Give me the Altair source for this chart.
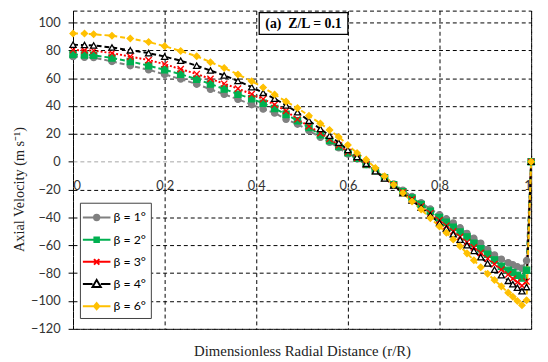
import altair as alt
import pandas as pd

# radial positions (r/R)
r = [0, 0.025, 0.045, 0.085, 0.125, 0.165, 0.2, 0.235, 0.27, 0.3,
     0.33, 0.36, 0.39, 0.415, 0.44, 0.465, 0.49, 0.515, 0.54, 0.56,
     0.58, 0.6, 0.62, 0.64, 0.66, 0.68, 0.7, 0.72, 0.74, 0.76,
     0.78, 0.8, 0.815, 0.83, 0.845, 0.86, 0.875, 0.89, 0.905, 0.92,
     0.935, 0.95, 0.96, 0.97, 0.98, 0.99, 1.0]

beta1 = [75.5, 75, 74.8, 72, 69, 66, 62.7, 59.4, 55.7, 52,
         48.4, 44.8, 41, 37.8, 35, 30.5, 27, 22.3, 17.5, 14,
         10, 5.5, 2, -2, -6.5, -11, -16, -20.5, -25, -29.5,
         -34, -38, -41, -44, -47.5, -51.5, -55, -58.5, -63, -67,
         -70, -72.5, -74, -75.5, -76.5, -71, 0]
beta2 = [77, 76.7, 76.4, 74.5, 72, 69, 66, 62.8, 59.3, 55.8,
         52.2, 48.5, 45.2, 42, 38.3, 34, 29.5, 24.5, 19.3, 15.3,
         11, 6.5, 2.5, -2, -6.5, -11.5, -16.5, -21.5, -26, -30.7,
         -35.5, -40, -43.5, -47, -50.5, -54, -58.5, -62.5, -66.5, -70.5,
         -75, -78, -79.5, -81.5, -83.5, -78, 0]
beta3 = [80.2, 80, 79.7, 78, 75.5, 73, 70, 66.5, 63, 59.5,
         56, 52.5, 48.5, 45, 41, 36.5, 30.5, 25.5, 20.5, 16.3,
         11.8, 7, 2.5, -2, -6.8, -12, -17, -22, -27, -32,
         -37, -42, -46, -50, -54, -57.8, -61.5, -65.5, -69.5, -73.5,
         -77.5, -81, -84, -86.5, -89, -86, 0]
beta4 = [84, 83.8, 83.5, 82, 80, 78, 75.5, 72.5, 69, 65.5,
         62, 58, 53.5, 49.5, 45.3, 40.5, 35.5, 29.5, 23.5, 18.7,
         13.7, 8.5, 3.5, -1.5, -6.8, -12, -17, -22.5, -27.8, -33,
         -38.5, -44, -48, -52, -56, -60, -64, -68.5, -73, -77.5,
         -81.5, -85.5, -88, -90.5, -93, -90, 0]
beta6 = [92, 92, 91.5, 90.5, 88.5, 86, 83, 79.5, 75.7, 71.5,
         67.3, 62.7, 57.8, 53.3, 48.3, 43.3, 38.5, 33, 27.5, 22.8,
         17.8, 12, 6.2, 1.5, -4.5, -10.5, -16.5, -22.5, -28.5, -34.3,
         -40.5, -46.5, -51, -55.8, -60.7, -65.8, -70.7, -75.8, -80.5, -85,
         -89.5, -94, -97, -100, -103, -99.5, 0]

series_names = ["β = 1°", "β = 2°", "β = 3°", "β = 4°", "β = 6°"]
series_values = [beta1, beta2, beta3, beta4, beta6]
colors = ["#808080", "#00b050", "#ff0000", "#000000", "#ffc000"]
fills = ["#808080", "#00b050", "#ff0000", "#ffffff", "#ffc000"]
shapes = ["circle", "square", "M-1,-1L1,1M-1,1L1,-1", "triangle-up", "diamond"]
dashes = [[5, 3], [5, 3], [2, 2], [5, 3], [5, 3]]
y_ticks = [-120, -100, -80, -60, -40, -20, 0, 20, 40, 60, 80, 100]
x_ticks = [0, 0.2, 0.4, 0.6, 0.8, 1]
annotation = "(a)\u00a0 Z/L = 0.1"

rows = []
for name, vals in zip(series_names, series_values):
    for rr, vv in zip(r, vals):
        rows.append({"r": rr, "v": vv, "series": name, "s_dash": name,
                     "s_shape": name, "s_fill": name, "s_stroke": name})
df = pd.DataFrame(rows)

# legend symbols: line + marker, as custom paths
legend_paths = [
    "M-1.2,0H1.6M0.47,0A0.27,0.27,0,1,1,-0.07,0A0.27,0.27,0,1,1,0.47,0Z",
    "M-1.2,0H1.6M-0.03,-0.23H0.43V0.23H-0.03Z",
    "M-1.2,0H1.6M-0.07,-0.28L0.47,0.28M-0.07,0.28L0.47,-0.28",
    "M-1.2,0H-0.22M0.62,0H1.6M0.2,-0.42L0.62,0.3H-0.22Z",
    "M-1.2,0H1.6M0.2,-0.32L0.47,0L0.2,0.32L-0.07,0Z",
]
names_js = "[" + ",".join("'" + s + "'" for s in series_names) + "]"
paths_js = "[" + ",".join("'" + p + "'" for p in legend_paths) + "]"
fills_js = "[" + ",".join("'" + c + "'" for c in ["#808080", "#00b050", "transparent", "#ffffff", "#ffc000"]) + "]"
sym_expr = f"{paths_js}[indexof({names_js}, datum.value)]"
fill_expr = f"{fills_js}[indexof({names_js}, datum.value)]"

x_enc = alt.X(
    "r:Q",
    scale=alt.Scale(domain=[0, 1], nice=False),
    axis=alt.Axis(
        values=x_ticks, format="~g", offset=-169, domain=False, ticks=False, tickSize=0,
        labelPadding=18, labelFont="Lato", labelFontSize=13, labelColor="#333333",
        grid=True, gridColor="black", gridDash=[4, 3], gridWidth=1,
        title="Dimensionless Radial Distance (r/R)", titleFont="Liberation Serif",
        titleFontSize=15, titleFontWeight="normal", titleColor="#222222",
        titleY=196, titleBaseline="alphabetic",
    ),
)
y_enc = alt.Y(
    "v:Q",
    scale=alt.Scale(domain=[-120, 108.5], nice=False, zero=False),
    axis=alt.Axis(
        values=y_ticks, domain=False, tickSize=5, tickColor="black",
        labelPadding=8, labelFont="Lato", labelFontSize=13, labelColor="#333333",
        grid=True,
        gridColor={"condition": {"test": "datum.value === 0", "value": "#a6a6a6"}, "value": "black"},
        gridDash=[4, 3], gridWidth=1,
        title="Axial Velocity (m s\u207b\u00b9)", titleFont="Liberation Serif",
        titleFontSize=14.5, titleFontWeight="normal", titleColor="#222222",
        titleX=-54, titleY=181, titleAngle=270, titleAlign="center", titleBaseline="middle",
    ),
)

legend = alt.Legend(
    title=None, orient="none", legendX=7, legendY=195, direction="vertical",
    symbolType=alt.ExprRef(expr=sym_expr),
    symbolFillColor=alt.ExprRef(expr=fill_expr),
    symbolSize=400, symbolStrokeWidth=2,
    labelFont="Lato", labelFontSize=12.5, labelColor="black", labelOffset=8,
    rowPadding=4.5, padding=4, strokeColor="#404040", fillColor="white", labelLimit=0,
)

lines = alt.Chart(df).mark_line(strokeWidth=2).encode(
    x=x_enc, y=y_enc,
    color=alt.Color("series:N", scale=alt.Scale(domain=series_names, range=colors), legend=legend),
    strokeDash=alt.StrokeDash("s_dash:N", scale=alt.Scale(range=dashes), legend=None),
)

points = alt.Chart(df).mark_point(filled=True, size=40, strokeWidth=1.3, opacity=1).encode(
    x=x_enc, y=y_enc,
    shape=alt.Shape("s_shape:N", scale=alt.Scale(range=shapes), legend=None),
    fill=alt.Fill("s_fill:N", scale=alt.Scale(range=fills), legend=None),
    stroke=alt.Stroke("s_stroke:N", scale=alt.Scale(range=colors), legend=None),
)

ann_df = pd.DataFrame({"label": [annotation]})
ann_box = alt.Chart(ann_df).mark_rect(fill="white", stroke="black", strokeWidth=1.3).encode(
    x=alt.value(189), x2=alt.value(279), y=alt.value(2), y2=alt.value(24)
)
ann_text = alt.Chart(ann_df).mark_text(
    font="Liberation Serif", fontSize=14, fontWeight="bold", color="black", align="center", baseline="middle"
).encode(x=alt.value(234), y=alt.value(13.5), text="label:N")

chart = (
    alt.layer(lines, points, ann_box, ann_text)
    .properties(
        width=465, height=323,
        autosize=alt.AutoSizeParams(type="none"),
        padding={"left": 66, "top": 0, "right": 9, "bottom": 31},
    )
    .configure_view(stroke="black", strokeDash=[4, 3], strokeWidth=1)
)

chart.save("out.html", embed_options={"renderer": "svg", "actions": False})
